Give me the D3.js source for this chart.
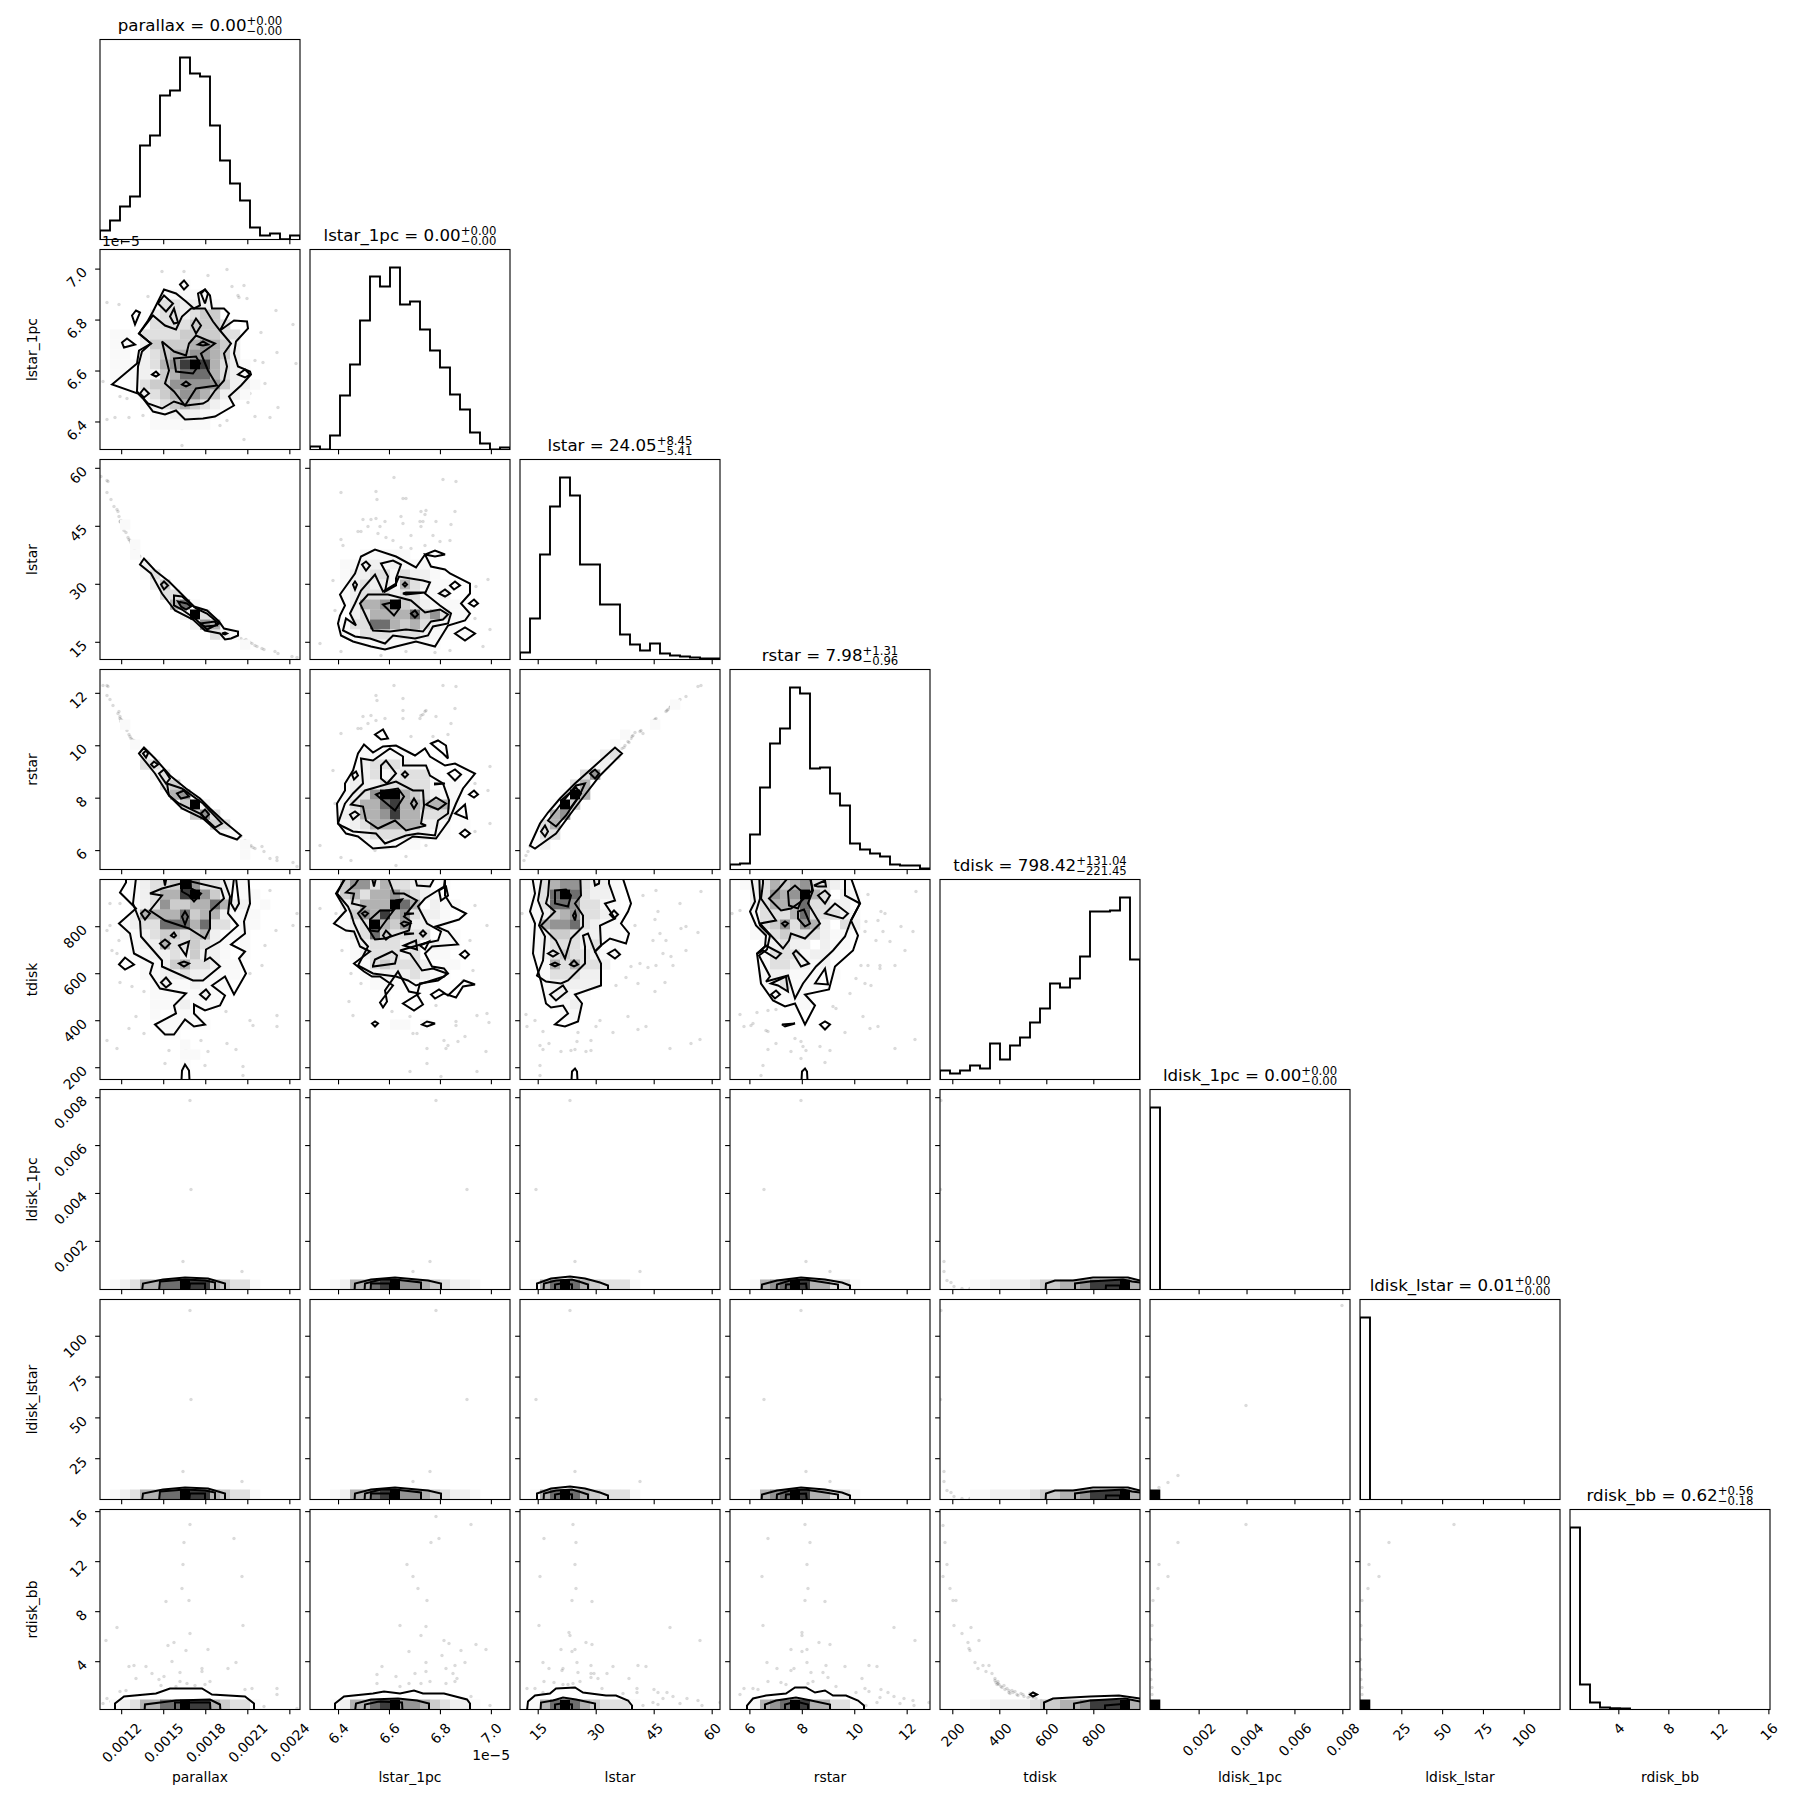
<!DOCTYPE html>
<html><head><meta charset="utf-8">
<script src="https://d3js.org/d3.v7.min.js"></script>
<style>html,body{margin:0;padding:0;background:#fff}text{font-family:"DejaVu Sans";fill:#000}</style>
</head><body><svg id="c" width="1809" height="1809" xmlns="http://www.w3.org/2000/svg"></svg>
<script>
// ---- variables
const names = ["parallax","lstar_1pc","lstar","rstar","tdisk","ldisk_1pc","ldisk_lstar","rdisk_bb"];
const titleMain = ["parallax = 0.00","lstar_1pc = 0.00","lstar = 24.05","rstar = 7.98","tdisk = 798.42","ldisk_1pc = 0.00","ldisk_lstar = 0.01","rdisk_bb = 0.62"];
const titleUp = ["+0.00","+0.00","+8.45","+1.31","+131.04","+0.00","+0.00","+0.56"];
const titleDown = ["−0.00","−0.00","−5.41","−0.96","−221.45","−0.00","−0.00","−0.18"];
const domains = [[0.001049,0.002476],[6.29,7.075],[10.42,62.15],[5.26,12.89],[147.7,998.7],[-0.00003,0.00832],[-0.3,122.2],[0.136,16.13]];
const tickVals = [[0.0012,0.0015,0.0018,0.0021,0.0024],[6.4,6.6,6.8,7.0],[15,30,45,60],[6,8,10,12],[200,400,600,800],[0.002,0.004,0.006,0.008],[25,50,75,100],[4,8,12,16]];
const tickText = [["0.0012","0.0015","0.0018","0.0021","0.0024"],["6.4","6.6","6.8","7.0"],["15","30","45","60"],["6","8","10","12"],["200","400","600","800"],["0.002","0.004","0.006","0.008"],["25","50","75","100"],["4","8","12","16"]];
// ---- 1D histograms (20 bins, relative counts)
const hist_parallax = [9,19,33,43,94,104,144,149,182,166,163,114,79,56,39,12,4,6,0.3,4];
const hist_lstar1pc = [3,0,14,54,85,129,173,163,182,145,148,120,99,82,55,40,17,6,0,2];
const hist_lstar = [7,41,105,153,182,164,95,95,55,55,25,15,9,16,6,4,3,2,1,1];
const hist_rstar = [5,6,35,82,126,141,182,176,101,102,76,64,26,20,16,13,5,4,4,1];
const hist_tdisk = [9,6,9,14,11,36,20,34,42,57,71,96,92,101,123,168,168,169,182,120];
const hist_ldisk1pc = [182,0,0,0,0,0,0,0,0,0,0,0,0,0,0,0,0,0,0,0];
const hist_ldisklstar = [182,0,0,0,0,0,0,0,0,0,0,0,0,0,0,0,0,0,0,0];
const hist_rdiskbb = [182,25,7,2,1.3,1,0,0,0,0,0,0,0,0,0,0,0,0,0,0];
const hists = [hist_parallax,hist_lstar1pc,hist_lstar,hist_rstar,hist_tdisk,hist_ldisk1pc,hist_ldisklstar,hist_rdiskbb];
// ---- density: 20x20 bin grid, [row from top, first column, levels 0-9]
const grayLevels = ["#ffffff","#f9f9f9","#f0f0f0","#e0e0e0","#cccccc","#b2b2b2","#949494","#6e6e6e","#3c3c3c","#000000"];
const cells_r1c0 = [[3,8,"1"],[4,6,"11111"],[5,6,"332221"],[6,5,"2332344"],[7,5,"33334443"],[8,1,"110333344443300"],[9,1,"11024444565420"],[10,1,"1102345566542"],[11,1,"1112356898532100"],[12,1,"1112145777532100"],[13,3,"13446666642210"],[14,3,"1234566542210"],[15,4,"123454321"],[16,5,"1122211"],[17,5,"111111"]];
const cells_r2c0 = [[6,2,"1"],[8,3,"1"],[9,3,"1"],[10,4,"2"],[11,4,"13"],[12,5,"24"],[13,6,"33"],[14,7,"571"],[15,8,"293"],[16,9,"265"],[17,11,"321"],[18,14,"1"]];
const cells_r3c0 = [[5,2,"1"],[7,3,"1"],[8,4,"2"],[9,4,"33"],[10,5,"23"],[11,6,"34"],[12,7,"56"],[13,8,"492"],[14,9,"463"],[15,11,"43"],[16,12,"11"],[17,14,"1"],[18,14,"1"]];
const cells_r2c1 = [[9,5,"11111"],[10,3,"112212111"],[11,3,"1223313221"],[12,3,"12322153211"],[13,3,"12333233112"],[14,4,"25569432111"],[15,4,"235555746311"],[16,3,"133775453211"],[17,3,"1133323321111"],[18,4,"111211111"]];
const cells_r3c1 = [[8,5,"11111"],[9,5,"2333211"],[10,4,"123123331"],[11,3,"122233333111"],[12,3,"123699543211"],[13,3,"135578554551"],[14,3,"225568553331"],[15,3,"12355555221 1"],[16,4,"1233332211"],[17,5,"112111"]];
const cells_r3c2 = [[3,15,"1"],[5,13,"1"],[6,10,"1"],[7,9,"1"],[8,8,"23"],[9,7,"12"],[10,6,"36"],[11,5,"35"],[12,4,"195"],[13,3,"194"],[14,3,"56"],[15,2,"35"],[16,2,"33"],[17,1,"12"]];
const cells_r4c0 = [[0,3,"123349633211"],[1,3,"1235589642 11"],[2,3,"123644557522 1"],[3,3,"2555574552111"],[4,2,"12337775733 11"],[5,2,"1123443452 11"],[6,3,"1225334321 1"],[7,3,"1122324221 1"],[8,4,"1124533211"],[9,4,"1122322111"],[10,5,"12112111"],[11,5,"1111121"],[12,5,"1112111"],[13,5,"1 111"],[14,6,"11111"],[15,6,"11"],[16,8,"1"],[17,8,"11"],[18,8,"1"]];
const cells_r4c1 = [[0,3,"466353322 1"],[1,3,"4535564321"],[2,3,"23555975 211"],[3,3,"14658563221"],[4,3,"12395462211"],[5,3,"123743333 11"],[6,4,"1233323 211"],[7,4,"1233323 11"],[8,5,"1343332 11"],[9,5,"112223211"],[10,6,"111111"],[11,7,"1"],[14,8,"11 1"]];
const cells_r4c2 = [[0,1,"135663221"],[1,1,"137973221"],[2,1,"137763311"],[3,1,"124563321"],[4,1,"156673211"],[5,1,"124432211"],[6,1,"1233323 1"],[7,1,"123433211"],[8,2,"1535332"],[9,2,"133322"],[10,2,"122222"],[11,2,"12211"],[12,3,"112"],[13,4,"11"]];
const cells_r4c3 = [[0,1,"12354563321"],[1,2,"23656953 21"],[2,2,"2355573322"],[3,2,"13335733321"],[4,2,"13463652 32"],[5,2,"1134333211"],[6,3,"12322 211"],[7,3,"13331221"],[8,3,"1332212"],[9,3,"122111 1"],[10,3,"113111"],[11,4,"1111"],[12,6,"11"]];
// bottom-row density of the ldisk_1pc, ldisk_lstar and rdisk_bb rows, per column
const bottom_c0 = "01235577988543310000";
const bottom_c1 = "00125578966543221000";
const bottom_c2 = "01579754333100000000";
const bottom_c3 = "00156798553310000000";
const bottom_c4 = "00011222234455688895";
// ---- contours in bin units (x from left, y from top; 20 bins per axis); each level a closed ring
const cont_r1c0 = [
[1.2,13.5,3.7,11.4,3.9,10.1,5.1,9.4,3.9,8.4,4.8,7.1,5.3,6.2,6.4,4,7.6,4.4,8.6,5.2,9.4,5.9,10,5.6,9.8,4.4,10.5,4,11,4.6,11.2,5.9,12.4,5.9,12.9,6.4,12,8.1,13.4,7.1,14.7,7.2,14.8,7.9,13.6,9.2,13.4,10.4,13.8,11.7,15,12.2,15.1,12.5,14.1,13.6,12.9,14.7,13.4,15.6,11.5,16.7,10.3,16.9,8.5,17,7.6,16.1,6.5,16.5,5.3,16.2,4.3,14.9,3.8,14.4],
[3.7,14.2,3.8,11.7,4.2,10.2,5.1,9.4,3.9,8.4,5.3,6.6,6.5,7.6,7.6,8,8.2,6.7,9.1,5.9,10.5,5.9,11.3,7.2,12,8.1,13.1,9.4,12.4,10.4,12.7,11.7,12.4,13.1,11.5,14.1,10.8,15.1,10.3,15.4,8.6,15.6,7.4,15.2,6.2,15.9,4.8,15.4],
[6.2,9.2,7.4,10.2,8.6,10.6,8.9,9.4,9.6,8.6,11.5,9.4,10.1,10.4,10.8,12.1,11.7,13.6,9.6,13.9,8.5,15.6,7.4,14.2,6.5,13.4,6.9,12.1],
[7.4,10.9,9.6,10.7,10,11.4,9.3,12.4,7.6,12.2],
[8,3.5,8.4,3.1,8.8,3.6,8.4,4],[5.8,5.4,6.4,4.6,7.3,5.4,6.6,6.2],[7,6.7,7.4,5.9,7.8,7.3,7.4,7.4],[3.2,6.6,3.6,6.1,4,6.3,3.5,7.5],[2.2,9.3,2.7,8.9,3.5,9.5,2.4,9.8],[9.2,7.6,9.6,6.9,10.1,7.6,9.6,8.4],[9.8,9.5,10.3,9.2,10.8,9.5,10.3,9.6],[5.2,12.5,5.6,12.2,5.9,12.5,5.6,12.7],[8.2,13.5,8.6,13.2,9,13.5,8.6,13.7],[4,14.4,4.4,13.9,4.9,14.4,4.4,14.8],[13.8,12.5,14.5,12,15,12.5,14.5,12.8],[10.1,4.4,10.5,4,10.8,4.4,10.5,5.4]];
const cont_r2c0 = [
[4,10.5,4.4,9.9,5.5,11.1,6.9,12.2,8.1,13.4,9.4,14.7,10.7,15.1,11.9,16.2,12.4,16.9,13.8,17.2,13.8,17.6,13.1,17.9,12.5,18,12,17.4,10.5,17.1,9.3,16,7.5,15.1,6.2,13.4,5.1,11.4],
[7.4,13.6,8.2,13.7,9.6,14.9,10.7,15.4,11.9,16.4,10.7,17,9.6,16,8.2,15,7.4,14.6],
[7.8,14.2,8.7,14.4,9.1,14.7,8.6,15,8.1,14.7],
[10,16.4,11.5,16.2,11.7,16.6,10.5,16.7],
[6.1,12.5,6.4,12.2,6.8,12.6,6.4,13],[12.2,17.4,12.5,17.3,12.7,17.4,12.5,17.5]];
const cont_r3c0 = [
[3.9,8.4,4.4,7.8,5.5,8.9,7,10.6,8.6,11.9,10,12.9,11,13.9,12.4,15.2,14.1,16.6,13.7,17,12,16.4,10.3,14.9,8.2,13.9,6.9,12.6,5.5,10.4],
[6.7,11.4,8.2,11.9,10.3,13.4,12.2,15.4,11.5,15.8,10,14.4,7.9,13.4,6.9,12.6],
[4.3,8.4,4.6,8.1,4.8,8.4,4.6,8.8],[5.1,9.5,5.4,9.2,5.8,9.5,5.4,9.8],[5.9,10.4,6.4,10,7,10.9,6.6,11.4],[7.7,12.4,8.4,12.1,8.9,12.7,8.1,12.9],[10.1,14.4,10.5,14,10.9,14.5,10.5,14.9]];
const cont_r2c1 = [
[2.8,16.4,3,15.6,3.5,14.6,3,13.5,4.5,11.4,5.1,9.7,6.5,9,8.6,9.7,10.6,10.8,11.5,9.5,12.5,9.1,13.5,9.5,12.5,9.7,11.5,9.5,12.1,10.7,13.5,11,14,11.4,16,12.4,16,13.4,15.1,14.4,16,15.4,15.5,16.1,13.8,16.6,12.5,18.7,10.6,18.2,8.6,18.7,7.5,19,6.1,18.7,4.3,18.2,3.1,17.6],
[4,15.4,4.5,14.4,5.1,13.1,6.5,11.5,7.3,13.2,8.6,12.4,8.9,11.7,11.3,12.1,12,12.3,11.5,13.4,13,14.6,14.1,15.4,13.8,16.4,12.3,16.7,11.8,17.6,10.5,17.9,8.3,17.6,7.5,18.4,6,17.9,4.5,17.7,3.3,17.1,3.6,15.9,4.6,16.6],
[5,14.4,5.8,13.5,7.8,13.5,10.1,14.1,11.5,15.3,13,15,13.8,15.5,13.3,16,12.1,16.2,11.3,17.2,9.6,17,8,17.2,6.3,17.1,5.8,16.1],
[7.3,14.5,9,14.1,9,14.8,8.4,15.6],
[7.1,10.4,8.3,10.1,9.1,10.5,8.6,11.9,8.6,12.6,7.5,13.2,7.8,11.7],[5.2,10.5,5.6,10.2,6,10.6,5.6,11.1],[4.3,12.5,4.5,12.2,4.7,12.5,4.5,13],[9.3,12.5,9.5,12.3,9.7,12.5,9.5,12.7],[9.3,13.4,9.6,13.3,11.5,13.3,9.6,13.5],[14,12.6,14.5,12.2,15,12.6,14.4,13],[12.9,13.4,13.5,13,14,13.4,13.5,13.7],[15.9,14.4,16.4,14,16.8,14.4,16.4,14.7],[14.5,17.4,15.5,16.8,16.5,17.4,15.5,18.1],[10.1,15.4,10.5,15.1,10.8,15.5,10.5,15.8]];
const cont_r3c1 = [
[2.8,15.4,2.7,13.4,3.5,12.1,3.5,11.4,4.3,10.1,4.8,8.4,5.4,7.5,6.3,8.3,7.3,7.7,8.6,7.6,10.5,8.6,11.5,7.9,12,8.7,13.5,9.6,14.5,9.4,16.5,10.4,15.3,11.9,14.6,13.4,13.9,15.1,12.6,16.9,10.3,16.7,8.6,17.7,6.3,17.9,4.8,16.7,3.6,16.4],
[3.5,13.4,4.3,12.4,5.3,11.4,5.1,8.9,6.3,9.1,8,7.9,9.3,8.7,9.3,9.6,11.6,9.6,12,10.6,13.3,11.4,13.9,13.1,13.8,14.4,12.8,15.1,12.5,16.6,10.8,16.4,9.6,16.6,7.5,17.4,6.6,16.4,4.3,16.2,3.3,15.7,2.8,15.4],
[4.1,13.5,5.5,12.1,8.6,11.2,10.3,12.1,11.3,12.1,11.4,13.6,11.1,15.4,11.6,15.6,9.6,16.1,8.5,15.1,6.8,15.9,5.6,15.1,5.3,13.7],
[6.6,12.5,7.6,12.1,8.8,11.9,9.4,12.7,8.5,14.1,7.3,13.1],
[7.1,9.6,7.6,9.1,8.6,10.4,7.7,11.4,7.1,10.9],[6.5,6.5,7.3,6,7.8,6.9,7.1,7],[12.1,7.4,12.8,7.1,13.6,7.6,13.8,8.9,13.3,8.4],[4.2,10.5,4.6,10.2,4.8,10.6,4.4,11],[9.2,10.5,9.5,10.2,9.8,10.5,9.5,10.8],[12.5,11.4,13.5,11.4,12.5,11.5],[13.8,10.4,14.5,10,15.1,10.5,14.5,11.1],[15.9,12.5,16.4,12.1,16.8,12.5,16.4,12.8],[10.1,13.4,10.4,12.9,10.7,13.4,10.4,13.9],[11.6,13.5,12.6,12.8,13.6,13.4,12.8,14],[14.5,14.4,15.5,13.5,15.7,14.9],[15,16.4,15.5,16,16,16.4,15.5,16.8],[4,14.5,4.5,14.2,4.9,14.5,4.3,15]];
const cont_r3c2 = [
[1,17.6,2,15.4,2.8,14.3,4,12.9,5.5,11.4,7.4,9.7,9.5,7.8,10.2,8.4,8,10.6,6.6,12.4,5.3,14.1,3.6,16.4,1.5,17.9],
[2.8,15.1,4.3,13.2,5.6,11.6,6.5,11.4,5.9,12.7,4.6,14.6,3.6,15.7],
[4.1,13.1,5.6,11.8,6.1,12.4,5,13.9],
[2.1,16.2,2.5,15.6,2.8,16.2,2.5,16.7],[7,10.4,7.5,10,7.9,10.4,7.5,10.9]];
const cont_r4c0 = [
[2.6,-1,2.6,.3,2,1.3,3.6,2.9,1.9,4.4,3,5.4,3.4,7.4,5.3,8.4,5,9.4,6,10.9,8.6,11.4,7.4,12.6,7.6,13.4,5.5,14.5,6.5,15.5,7.4,15.5,8.5,14,9.4,14.7,10.5,14.5,9.4,13.4,9.4,12.5,10.5,13.1,12,12.6,12.5,11.6,11.2,10.6,12.5,9.7,13.4,11.5,14.6,9.4,13.9,7.9,14.5,7.2,13.1,6.5,14.5,5.4,14.4,4.2,15,2.4,14.8,-1],
[13.5,-1,13.1,2.4,13.5,3.1,13.9,2.4],
[3.7,-1,3.3,2.4,4,4.2,4.1,5.7,6.2,8.1,6.2,8.7,9.3,10.1,10.3,10.1,12,8.7,11,7.8,10.5,8.1,10.6,7,12,6.2,13.8,4.6,12.8,3.4,13,1.7,12,-1],
[9.1,.2,12.1,.9,12.4,1.9,11,3.2,11,4.9,10.5,5.9,8.9,4.9,6.5,4.1,5,3.1,6.2,1.6,5,1.4,6.2,.9,8.1,.4],
[6.2,-1,6.5,.6,6.8,-1],
[8.1,-1,8.2,1.2,8.9,1.6,9.4,2.2,10.1,1.4,9.1,.9,9,-1],
[4.1,3.4,4.5,3,5,3.4,4.5,4],[8.2,3.7,8.5,3.2,8.8,3.7,8.5,4.5],[7.1,5.6,7.4,5.3,7.6,5.6,7.4,5.8],[6,6.4,6.5,6,7,6.4,6.5,6.9],[7.9,6.6,8.9,6.2,8.6,7.6],[7.9,8.4,8.4,8.2,8.9,8.4,8.4,8.7],[1.9,8.5,2.5,7.8,3.4,8.5,2.5,9],[6.1,10.3,6.6,9.8,7.1,10.4,6.6,10.8],[10,11.5,10.6,11,11,11.5,10.6,12],[8.1,21,8.2,19.1,8.5,18.5,8.9,19.1,9,21]];
const cont_r4c1 = [
[4.1,-1,2.6,1.4,3.6,3.1,2.4,4.4,3.6,5.1,4.4,5.2,5,6.7,6,7.2,4.4,8.4,5.4,9.2,6.2,9.7,7,9.7,8.3,10.6,7.3,11.9,7,12.3,7.3,12.8,7.7,12.2,7.5,11.1,8.8,9.2,9.9,11.2,10.9,11.4,9.3,12.4,10.4,13.1,11.3,12.5,10.7,11.5,11,10.4,12.8,10.1,13.8,9.4,13.4,8.9,12.2,8.7,11.5,7.4,12.2,6.7,14.8,6.5,13.8,5.2,12.6,4.7,14.9,4,15.6,3.4,14.2,2.7,13.5,1.6,13.5,-1],
[3.9,-1,2.7,1.4,3.8,2.7,4.1,3.4,4.4,4.4,5.1,5.9,5.8,6.7,4.8,8.6,6.3,9.4,8.6,9.7,9.8,10.1,10.6,10.6,13.4,9.7,13.7,9.4,12.3,8.9,11.2,9.1,10,7.4,9,7.1,11.4,6.4,12.8,6.1,13.1,5.2,11.7,4.4,10.8,2.7,11.5,1.9,13.4,.7,13.6,-1],
[3.6,1.3,4.4,1.4,4.2,2.4,5.5,2.7,4.8,3.4,6,5.2,6.5,6,7.5,5.9,9.9,5.1,10.1,4.2,9.4,3.7,10.7,2.1,9.4,1.4,8.4,1.4,7.5,-1,5.5,-1,4.5,.5],
[6,4,7,3.1,8.2,3.1,8.6,2.1,9.2,2,7.9,3.7,6.8,5.2,6,5.1],
[6,-1,6.4,.7,6.8,-1],[10.3,-1,10.7,.6,12,.7,12.9,-1],[12.9,1.1,13.6,.7,13.8,1.6,13.1,2.1],[9.5,3.4,10.4,3.4,9.5,3.5],[9.5,5.4,10.4,5.4,9.5,5.5],[7.3,5.6,7.6,5.1,8.1,5.6,7.6,6],[11,5.4,11.3,5.1,11.6,5.4,11.3,5.7],[9.4,6.6,10.6,6.1,10.7,7],[11,6.6,11.9,6.2,11.5,7],[6.3,8.6,6.5,8,8.2,7.2,8.7,7.6,8.5,8.4,6.3,8.7],[15,7.5,15.5,7.1,15.9,7.5,15.5,7.9],[12.1,11.5,12.9,11,13.8,11.6,15.4,10.1,16.5,10.5,15.3,10.7,14.6,11.8,13.4,11.4,12.5,11.9],[6.2,14.4,6.5,14.2,6.8,14.4,6.5,14.7],[11.2,14.5,11.7,14.2,12.5,14.4,11.7,14.7],[5.2,3.4,5.5,3.2,5.8,3.4,5.5,3.7],[9.1,4.4,9.4,4.2,10,4.4,9.4,4.7]];
const cont_r4c2 = [
[1.1,-1,1.5,1.4,1,3.2,1.5,4.4,1.3,7.4,2.1,10.2,2.6,12.4,3.1,12.8,4.3,12.6,4.8,13.4,3.5,14.5,4.5,14.7,5.8,14.2,6.2,12.4,5.5,11.5,8.1,10.6,8.1,8.4,7.5,7.2,8.1,6.6,9,5.9,10.6,6.4,10.9,5.4,10.1,4.4,10.8,3.2,11.1,2.4,10,-1],
[2.3,-1,1.8,2.1,2.3,3.4,1.9,4.6,2.5,5.7,2.3,8.1,1.7,9.6,2.6,10.2,4.1,10.4,4.8,10.1,6.5,8.4,6.5,6.7,6.3,5.6,6.8,5.4,7.5,7.2,8.1,6.6,8,4.6,9.5,3.9,8.5,2.4,9.5,2.1,8.9,.4,8.9,-1],
[3,-1,2.8,1.6,2.6,2.4,3.5,3.2,2.1,4.6,3.6,6.1,4.5,7.9,5.1,5.9,6.3,4.7,6.3,3.6,5.5,2.4,6.1,1.6,6,-1],
[3.5,1.1,4.6,1,5.1,1.6,4.8,2.7,3.5,2.4],
[5.3,3.6,5.5,3.2,5.6,3.6,5.5,4.1],[7.2,-1,7.5,.6,7.9,.4,8,-1],[9,3.5,9.4,3.1,9.8,3.5,9.4,3.9],[2.8,7.4,3.3,7.1,3.8,7.4,3.3,7.7],[3.1,8.5,3.5,8.3,3.9,8.5,3.5,8.7],[5,8.5,5.4,8.1,5.8,8.5,5.4,8.7],[3,11.5,4.3,10.6,4.7,11.2,3.6,12.1],[8.8,7.4,9.5,7,10,7.5,9.5,7.9],[5.1,21,5.2,19.2,5.5,18.9,5.7,19.2,5.8,21]];
const cont_r4c3 = [
[2,-1,2.5,2.2,2,3.2,2.6,4.6,3.6,5.6,3.5,6.7,2.7,7.4,3.1,10.4,4.3,12.1,5.5,12.7,6.5,12.4,7.5,14.5,8.5,12.6,7.5,11.5,9.9,11,10.5,8.7,12.3,7.1,12.8,5.6,12.1,4.1,13,2.4,11.8,-1],
[3.3,-1,3.3,.4,3.1,1.9,3.8,2.9,4.6,4.1,3,4.4,5.3,6.9,5.9,6.1,6.1,5.4,7.5,5.9,9,4.4,7.8,2.4,8.3,1.1,7.8,-1],
[2.9,-1,3,1.9,2.6,3.2,3,4.6,4,5.6,3.7,7,2.9,7.6,4,9.7,3.6,10.2,5.8,9.6,6.5,11.9,7.3,10.4,8.6,8.7,10.3,7.1,11.5,5.7,12.1,4.1,13,2.4,11.5,1.6,11.5,-1],
[2.8,7.4,3.3,7.1,4.6,7.9,5.1,7.4,3.6,6.6],
[3.9,1.9,4.9,.9,6.5,-1,8,-1,8.2,1.1,7.1,2.2,6.1,2.9,5.1,3.1],
[5.8,1.2,6.5,.6,7.4,1.4,6.8,2.9,5.9,2.6],
[6.8,3.2,7.4,3,8,4.4,7.5,4.7,6.8,3.9],
[5.2,4.4,5.5,4.2,5.8,4.4,5.5,4.7],[8.4,.6,9.5,.1,9.6,.7,8.8,.7],[8.8,1.6,9.5,1.1,10,1.6,9.5,2.4],[9.5,3.4,10.5,2.4,11.8,3.4,11.3,3.9],[6.3,7.4,6.6,7.1,7.9,8.4,7.1,8.7],[8.5,10.4,9.5,8.9,9.8,10.5],[4.1,10.4,5.6,9.7,5.8,11.2,4.8,10.6],[4.1,11.5,4.6,11.1,5,11.5,4.5,11.9],[5.2,14.5,6.5,14.4,5.5,14.7],[9,14.5,9.5,14.2,10,14.5,9.5,15],[7.1,21,7.2,19.2,7.5,18.9,7.7,19.2,7.8,21]];
const cont_r5c0 = [[4.1,21,4.3,19.4,6.3,19,8.5,18.8,10.8,18.9,12.5,19.4,12.5,21],[5.8,21,6,19.2,8.5,19,10.5,19.1,11.5,19.3,11.5,21],[8.8,21,9,19.4,10.5,19.4,10.5,21]];
const cont_r5c1 = [[4.4,21,4.5,19.4,6.1,19,8.5,18.8,11.8,19.1,13.1,19.4,13.1,21],[5.4,21,5.5,19.4,7.1,19,8.5,19,11.1,19.3,11.1,21],[6,21,6.1,19.4,8,19.4,8,21]];
const cont_r5c2 = [[1.7,21,1.7,19.4,3.1,18.9,5,18.7,6.5,18.9,8,19.3,8.8,19.6,8.8,21],[2.3,21,2.4,19.4,3.6,19.1,5.2,19,6.2,19.3,6.8,19.5,6.8,21],[3.5,21,3.5,19.5,4.1,19.4,5.2,19.5,5.2,21]];
const cont_r5c3 = [[3.1,21,3.2,19.5,4.7,19.1,7.1,18.8,9.5,19,11.2,19.3,12,19.6,12,21],[4.6,21,4.7,19.5,6,19.1,7.5,19,9.5,19.3,10.8,19.5,10.8,21],[5.5,21,5.6,19.5,7.6,19.4,7.8,21]];
const cont_r5c4 = [[10.5,21,10.6,19.4,11.5,19.1,13.3,19.1,15.3,18.8,18.8,18.8,20,19.1,21,19.1,21,21],[13.5,21,13.5,19.4,15,19.2,18.3,19,19.2,19.2,20,19.3,21,19.3,21,21],[16.5,21,16.6,19.6,18,19.6,18,21]];
const cont_r7c0 = [[1.5,21,1.5,19.4,2.4,18.7,5.6,18.4,7,17.9,10.2,17.9,11.2,18.5,14.5,18.7,15.4,19.4,15.4,21],[4.4,21,4.5,19.5,7.6,19.1,11,19,12,19.5,12.1,21],[7.5,21,7.5,19.3,11,19.3,11.1,21]];
const cont_r7c1 = [[2.5,21,2.5,19.4,3.4,18.7,6.3,18.4,7.4,18.2,9,18.4,10.4,18.1,11.3,18.4,13.4,18.4,15.7,19,16,19.4,16,21],[4.4,21,4.6,19.4,6.1,19,8.8,18.9,10.7,19.1,11.9,19.4,11.9,21],[5.4,21,5.5,19.5,6.9,19.2,9.2,19.3,9.3,21]];
const cont_r7c2 = [[.6,21,.8,19.2,1.5,18.6,3,18.4,3.6,17.9,5.5,17.8,6.3,18.3,8.6,18.6,9.6,18.6,10.8,19.1,11.2,19.6,11.2,21],[2,21,2.1,19.3,3.3,19.1,4.3,18.8,5.6,19,7.5,19.4,7.5,21],[3.5,21,3.5,19.5,4.1,19.4,5.2,19.5,5.2,21]];
const cont_r7c3 = [[1.7,21,1.7,19.6,2.3,18.9,3.6,18.6,5.6,18.4,6.5,17.8,7.6,17.8,8.5,18.3,9.5,18.1,10.3,18.6,11.6,18.6,12.8,19.1,13.4,19.6,13.4,21],[3.5,21,3.5,19.5,4.6,19.1,6.6,18.8,8.1,19.1,10,19.5,10,21],[5.5,21,5.5,19.5,6.6,19.2,7.8,19.5,7.8,21]];
const cont_r7c4 = [[10.4,21,10.4,19.3,11.3,18.9,15,18.7,17.9,18.6,20,18.9,21,18.9,21,21],[13.4,21,13.4,19.4,15,19.1,18.5,18.9,20,19.2,21,19.2,21,21],[16.5,21,16.5,19.6,18.8,19.4,18.8,21],[9,18.5,9.3,18.3,9.7,18.5,9.3,18.7]];
// ---- outlying samples in bin units, flat x,y pairs
const pts_r1c0 = [1.9,5.5,.7,5.3,6.2,2.2,8.4,2.2,10.8,2.6,12.7,2,13.2,3.7,14.4,3.6,13.8,4.6,13.9,4.8,14.7,4.9,17.6,6.1,16.1,8.3,19.3,7.5,17.7,10.3,19.6,11.4,16.3,11.3,15.5,11.1,16.5,13.4,15,14.4,14.8,15.3,17.8,15.8,15.5,16.7,17,16.8,14.4,19,12.7,17.1,12,17.6,8.2,17.9,6.5,16.9,5.3,17.6,4.3,16.6,2.9,16.8,1.5,16.8,.7,17,2,14.7,2.7,14.9,.3,13.2,1.2,10.7,1.9,8.4,1.3,9.7,4.8,4.7,8.2,19.6];
const pts_r2c0 = [.1,1.7,.7,2.1,.7,3.3,1.1,4,1.4,4.7,1.8,5.2,1.9,5.7,2,6.2,2.2,6.5,2.3,6.6,2.4,7.1,2.8,7.8,3.1,8.3,3.3,8.7,3.6,9.2,3.9,9.6,13.9,17.9,14.4,18.1,15,18.3,15.5,18.6,16.2,18.9,16.4,19,17.5,19.2,17.8,19.4,19.2,19.7,19.7,19.8,2.1,6.3,2.2,6.4,14.5,18.2,.8,2.2,1.7,5,2.1,6.1,2.3,6.3,2.4,6.8,2.6,7.3,2.9,8,3,8.1,3.4,8.9,3.5,9.1,3.7,9.4,4,9.7,14.1,17.9,14.6,18,14.8,18.2,15.2,18.4,15.7,18.7];
const pts_r3c0 = [.3,1.6,.7,1.6,.7,2.6,1,3,1.3,3.6,1.9,4.2,2,4.7,2.2,5.1,2.3,5.4,2.7,6.1,3.1,6.9,3.4,7.1,3.8,7.6,2.1,5,2.2,5.2,14.1,16.7,14.5,17.1,14.8,17.5,15,17.7,15.5,17.9,16.2,17.7,16.4,18.2,17,18.9,17.7,18.8,17.7,19.1,19.3,19.3,19.7,19.7,.8,1.7,1.8,4.4,2,4.9,2.1,5.2,2.4,5.6,2.9,6.5,3,6.7,3.2,7,3.6,7.4,14.6,17.2,14.7,17.4,15.1,17.6,15.3,17.8];
const pts_r2c1 = [1,18.4,3.1,3.3,6.6,3.2,6.7,4,8.4,1.8,9.3,3.9,9.6,3.9,13.3,2,14.6,2.2,11.1,5.2,11.6,5.1,11.5,5.5,14.5,5.2,5.3,6,6.1,6,6.6,5.9,7.5,6.2,7,6.7,5.8,6.7,5.1,7.2,6.8,7.4,7.6,7.8,3.1,8,3.3,8.6,4.8,7.2,9.1,5.7,9.3,6.4,11,6.2,11.3,6.2,11.1,6.7,12.6,6.2,14.1,6.5,12.3,7.6,10.1,7.6,8.3,8.1,9.1,8.8,10.1,8.9,11.5,8.6,13,8.2,14,8.1,16.6,12.7,17.8,12,18,17,16.5,15.9,17.3,18.7,14,19.1,3.1,19.2,7.1,19.6,9.6,19.2,12.5,19.3,2.3,12.1,2.5,15.1];
const pts_r3c1 = [1,17.6,3.1,18.8,6.6,2.6,6.7,3.1,8.4,1.6,9.3,2.9,13.3,1.6,14.6,1.7,11.1,4.6,11.5,4.2,11.6,4.1,11.3,4.5,14.5,3.9,5.3,4.7,6.1,4.6,6.6,5.1,7.5,4.9,5.8,5.4,5.1,5.9,3.1,6.4,4.8,5.9,6.8,6.7,9.3,4.1,9.3,4.9,11,4.9,12.6,4.7,14.1,5.4,10.1,6.7,12.3,6.7,13.8,6.5,18,9.7,16.5,11.4,17.8,12.1,18,15.4,16.5,16.2,2.3,10.1,2.5,13.4,11.6,17.6,6.5,18.1,4.1,19.1,9.6,18.7,8.6,19.6];
const pts_r3c2 = [10.2,7.9,10.5,7.6,10.8,7.2,11.1,6.9,11.5,6.3,12,6.2,12.3,6.4,13.3,5.2,13.6,4.9,13.6,5.1,14.6,4.2,14.8,4,15.1,3.7,16,3,16.6,2.7,17.8,1.7,18.1,1.6,1,17.7,.8,18.2,.6,18.6,.4,19.1,10.4,7.8,10.9,7.3,11.2,6.7,11.3,6.6,12.1,6.1,13.4,5.1,13.5,5,14.7,4.1,15,3.8];
const pts_r4c0 = [17,1.1,15.3,3.2,19.7,3.4,19.3,4.6,17.6,5.1,1,2.4,2,2.4,1,4.6,.7,5.1,1.9,6.1,1.2,7.1,1.7,7.4,16.5,6.6,16.2,8.6,15,9.4,2,10.3,3.2,10.7,4.4,11.2,3.6,13.7,4.4,15.4,2.9,14.9,.7,16.1,1.7,16.9,8.6,17,6.9,17.1,10.8,17.2,10.1,16.1,13.6,17,12.7,16.4,17.7,13.6,17.7,14.7,15,14.1,15.3,14.6,12.6,13.2,6.5,18.4,10.5,18.6,14.3,18.7,14.3,19.6,11.2,10.4];
const pts_r4c1 = [1,2.9,2.6,3.4,3.2,7.1,4.1,9.4,5.1,10.4,3.9,12.2,4.3,13.6,8.2,13.2,8.6,14.2,8.9,14.7,10.3,15.4,10.7,15.4,11.7,16.9,13.4,16.1,13.8,16.6,14.8,16.2,13.6,16.9,14.6,14.2,15.5,15.7,16.7,13.6,17.7,13.4,17.9,14.3,17.6,17.2,16.7,19.2,11.7,18.4,10,19.2,13.1,19.7,12.6,12.6,16.3,9.1,15.3,10.1,16.5,2.6,17.7,4.6,16,6.1,10,13.7,14.6,14.6];
const pts_r4c2 = [.2,3.4,.6,13.5,.7,14.7,1.5,14.1,2.3,15.2,2,16.6,2.3,17,2.9,16.4,4.1,17.2,5.1,17.1,5.5,17,5.7,16.2,5.8,15.3,6.6,17.2,7.1,17.1,7.1,16.1,8,14.1,7.6,14.7,9.3,15.3,10.8,13.7,11.8,15,12.6,14.7,11.1,8.7,12,8.4,12.8,8.8,13.6,8.6,14.3,7.4,15.1,7.7,15.3,8.6,16.6,7.1,13.3,6.1,14.6,6.1,13.5,4,13.8,3.2,16,2.4,12.3,1.6,13.6,1.1,18.1,1.2,11.5,4.6,14,5.4,16.1,4.9,16.6,4.7,17.8,5.3,9.6,10.6,10.6,9.8,11.8,10.4,13.5,11.2,14.5,10.3,15,16.9,18,16,17.1,16.4,2,18.6,2,19.6];
const pts_r4c3 = [.2,3.4,1,3.1,1,13.5,1.4,14.7,2.1,14.6,2.3,14.4,2.7,13.3,3.8,13.1,3.6,15.1,4.6,13,3.8,15.2,3.8,17,4.6,16.4,6.5,15.9,7.1,16.2,7.3,16.7,7.6,17.1,9,16.7,10,17.1,9.5,18.3,7.1,17.9,6.1,17.2,3.3,18.6,3.1,19.6,10.3,12.7,10.6,12.9,11.5,15.3,13.3,13.7,14,14.9,14.8,14.7,12,11.4,12.6,9.9,13.5,10.4,14.1,10.6,15,8.6,15,8.9,16.5,8.6,17.5,7.1,14.6,6.1,16,6.2,13.8,8.6,13.1,8.6,14.8,4.1,13.6,4.2,13.5,5.2,15.3,5.2,17.1,4.7,18.3,5.2,15.1,3.2,15.5,3.4,13.8,1.5,16.5,16.9,18.5,16,18.6,1.2];
const pts_r5c0 = [9,1.1,9.1,10,8.3,17.2,14.2,18.2,14.3,19.8];
const pts_r5c1 = [12.6,1.1,15.7,10,12,17.2,10.3,18.2];
const pts_r5c2 = [5,1.1,1.6,10,5.5,17.2,12,18.2];
const pts_r5c3 = [7.1,1.1,3.4,10,7.6,17.2,10,18.2];
const pts_r5c4 = [.1,1.1,.05,10,.4,17.2,.4,18.2,.7,19.1,1.1,19.3,1.4,19.7,2.2,19.9,3,19.9];
const pts_r6c5 = [19.2,.6,9.6,10.6,2.8,17.6,.9,18.8,1.8,18.3,.8,19.2,.3,19.5];
const pts_r7c0 = [9,1.5,13.4,2.9,8.4,3.3,8.3,5.5,14.2,6.7,8.2,7.9,8.9,9.1,6.6,9.2,14.3,11.6,1.7,11.8,9,12.4,.6,13.1,7.4,13.3,6.8,13.6,8.6,14.1,10.8,14,2.9,15.7,3.4,15.6,4.6,15.7,13.6,15.3,12.8,15.9,7.2,15.2,10.2,15.9,10.2,16.2,8,16.3,5.2,16.4,6.4,16.7,5.9,17,3.6,16.9,11,17.2,8,17.2,8.7,17.4,9.5,17.6,10.5,17.5,7.6,17.7,6.1,17.6,2.6,18.1,2,18.2,15.2,17.9,14.5,18,17.7,17.9,17.7,18.5,16.4,19.7,19.7,19.9,.7,18.9,.3,19.4,1.1,19.2];
const pts_r7c1 = [16.1,1.5,12.6,.7,12.9,2.9,12.1,3.3,9.7,5.5,10.3,6.7,10.8,7.9,11.7,9.1,9,11.6,11.6,11.7,11.1,12.6,9.9,14.2,13.4,13.1,13.9,13.4,16.6,13.5,17.6,14,15.1,14.1,13.2,14.6,11.6,15.3,7.2,15.7,14.5,15.6,15.5,15.3,13.6,15.9,11.6,16.2,10.5,16.4,6.7,16.5,8.6,16.7,14.3,16.4,14.7,16.9,6.7,17.4,9,17.7,9.9,17.4,11.1,17.4,12,17.2,13.6,17.4,14.5,17.2,16.1,18.7,18,19.6];
const pts_r7c2 = [5.3,1.5,2.4,2.9,5.6,3.3,5.5,5.5,2,6.7,5.6,7.9,5.2,9.1,7.2,9.2,1.9,11.6,4.9,12.3,5,12.6,15,11.8,18,13.1,6.6,13.3,7.2,13.5,4.1,14,5.2,14.2,5.5,14,2.3,15.3,5.7,15.3,2.9,15.9,4.3,15.9,4.2,16.1,5.8,16.3,7.1,15.6,9.3,15.7,11.8,15.6,12.6,15.7,8.7,16.4,7.1,16.4,7.4,16.4,7.1,16.8,7.8,16.9,10.9,16.9,2.4,17.2,3.4,17.3,4.3,17.5,4.8,17.5,5.3,17.4,6,17.2,.7,17.9,1.5,17.9,2.3,18.3,8.2,17.9,11.7,17.9,13.4,18,13.8,18.3,10.3,18.4,11.7,18.3,14.7,18.3,15.3,18.7,16.7,18.9,17.8,19.1,14.3,18.9,13.3,19.3,13.8,19.5,12.3,19.6,16,19.4,18.2,19.6,20,19.3];
const pts_r7c3 = [7.5,1.5,3.8,2.9,8,3.3,7.7,5.5,3.2,6.7,7.8,7.9,7.5,9.1,9.5,9.2,3.3,11.6,7.2,12.3,7.2,12.6,16.4,11.8,18.5,13.1,8.9,13.3,10,13.5,6.1,14,7.2,14.2,7.7,14,3.7,15.3,7.7,15.3,4.7,15.9,6.4,15.9,6.1,16.1,8.1,16.3,9.6,15.6,11.5,15.7,13.9,15.6,14.7,15.7,9.3,16.3,9.8,16.8,13.2,16.9,3.8,17.2,5.1,17.3,5.6,17.5,7.8,17.4,8.3,17.2,1.4,17.9,2.3,17.9,2.8,18,1,18.5,10.6,17.7,13.5,17.9,15.1,18,15.8,18.3,12.6,18.3,13.9,18.2,16.4,18.7,17.4,18.9,18.3,19.1,15,18.8,14.7,19.3,13.6,19.6,17,19.4,18.4,19.6,19.9,19.3];
const pts_r7c4 = [.3,1.6,.5,3.3,.7,5.5,.3,6.7,1,7.9,1.3,9.1,1.6,9.1,1.4,11.6,3.1,11.8,2.2,12.4,2.8,13.3,2.9,13.9,3.9,13.1,3,14.1,3.5,15.3,3.8,15.9,4.3,15.6,4.9,15.6,5.2,16.4,5.5,17.1,5.8,17.4,6.1,17.7,6.7,17.9,7,18.4,7.5,18.2,8.1,18.4,8.4,18.7,9,18.7,9.6,18.9,10.1,19.1,5.8,17.2,5.7,17.5,4.6,16.2,7.2,18.1,7.8,18.6,9,18.4,6.4,17.6,5.9,17.5,6.2,17.8,6.9,18.1,7.3,18.3,7.7,18.5,8.3,18.5,8.8,18.8,9.3,18.8,5.5,16.9,5.6,17.3,6.5,18,6.9,18.3];
const pts_r7c5 = [9.6,1.5,2.8,3.3,.9,5.5,1.8,6.7,.8,7.9,.3,9.1,.2,11.6,.1,13,.05,15,.1,16,.1,17,.2,17.8,.2,18.5];
const pts_r7c6 = [9.4,1.5,2.9,3.3,.9,5.5,1.9,6.7,.8,7.9,.2,9.1,.1,11.6,.1,13,.05,15,.1,16,.1,17,.2,17.8,.2,18.5];
// ---- panel table: key row,col → cells, contours, points
const lowCells = s => [[19,0,s]];
const panels = {
 "1,0":[cells_r1c0,cont_r1c0,pts_r1c0],"2,0":[cells_r2c0,cont_r2c0,pts_r2c0],"3,0":[cells_r3c0,cont_r3c0,pts_r3c0],
 "2,1":[cells_r2c1,cont_r2c1,pts_r2c1],"3,1":[cells_r3c1,cont_r3c1,pts_r3c1],"3,2":[cells_r3c2,cont_r3c2,pts_r3c2],
 "4,0":[cells_r4c0,cont_r4c0,pts_r4c0],"4,1":[cells_r4c1,cont_r4c1,pts_r4c1],"4,2":[cells_r4c2,cont_r4c2,pts_r4c2],"4,3":[cells_r4c3,cont_r4c3,pts_r4c3],
 "5,0":[lowCells(bottom_c0),cont_r5c0,pts_r5c0],"5,1":[lowCells(bottom_c1),cont_r5c1,pts_r5c1],"5,2":[lowCells(bottom_c2),cont_r5c2,pts_r5c2],"5,3":[lowCells(bottom_c3),cont_r5c3,pts_r5c3],"5,4":[lowCells(bottom_c4),cont_r5c4,pts_r5c4],
 "6,0":[lowCells(bottom_c0),cont_r5c0,pts_r5c0],"6,1":[lowCells(bottom_c1),cont_r5c1,pts_r5c1],"6,2":[lowCells(bottom_c2),cont_r5c2,pts_r5c2],"6,3":[lowCells(bottom_c3),cont_r5c3,pts_r5c3],"6,4":[lowCells(bottom_c4),cont_r5c4,pts_r5c4],
 "6,5":[[[19,0,"9"]],[],pts_r6c5],
 "7,0":[lowCells(bottom_c0),cont_r7c0,pts_r7c0],"7,1":[lowCells(bottom_c1),cont_r7c1,pts_r7c1],"7,2":[lowCells(bottom_c2),cont_r7c2,pts_r7c2],"7,3":[lowCells(bottom_c3),cont_r7c3,pts_r7c3],"7,4":[lowCells(bottom_c4),cont_r7c4,pts_r7c4],
 "7,5":[[[19,0,"9"]],[],pts_r7c5],"7,6":[[[19,0,"9"]],[],pts_r7c6]
};
// ---- drawing
const N = names.length, SIZE = 200, STEP = 210, X0 = 100, Y0 = 39.5, TICK = 4.86, TXT = 13.9;
const svg = d3.select("#c");
const defs = svg.append("defs");
const colX = i => X0 + STEP*i, rowY = j => Y0 + STEP*j;
const pairs = a => d3.range(0, a.length, 2).map(k => [a[k], a[k+1]]);
const rotBox = w => (w + 7) * Math.SQRT1_2;

function styleLabels(g, place){
  g.selectAll(".tick text").attr("x",null).attr("y",null).attr("dy",null)
   .attr("text-anchor","middle").attr("dominant-baseline","central").style("font-size",TXT+"px")
   .each(function(){ const w = rotBox(this.getComputedTextLength()); d3.select(this).attr("transform", place(w)+" rotate(-45)"); });
}
for (let j=0;j<N;j++) for (let i=0;i<=j;i++){
  const px = colX(i), py = rowY(j);
  const g = svg.append("g");
  const bx = d3.scaleLinear().domain([0,20]).range([px,px+SIZE]);
  const by = d3.scaleLinear().domain([0,20]).range([py,py+SIZE]);
  const cid = `clip${j}_${i}`;
  defs.append("clipPath").attr("id",cid).append("rect").attr("x",px).attr("y",py).attr("width",SIZE).attr("height",SIZE);
  const inner = g.append("g").attr("clip-path",`url(#${cid})`);
  const valX = d3.scaleLinear().domain(domains[i]).range([px,px+SIZE]);
  if (i===j){
    const hy = d3.scaleLinear().domain([0,200]).range([py+SIZE,py]);
    const last = d3.max(hists[i].map((v,k)=> v>0 ? k : 0));
    const series = [[0,0]].concat(hists[i].slice(0,last+1).map((v,k)=>[k,v]),[[last+1,hists[i][last]],[last+1,0]]);
    inner.append("path").attr("fill","none").attr("stroke","#000").attr("stroke-width",1.9)
      .attr("d", d3.line().curve(d3.curveStepAfter).x(d=>bx(d[0])).y(d=>hy(d[1]))(series));
  } else {
    const p = panels[j+","+i];
    p[2] && inner.append("g").selectAll("circle").data(pairs(p[2])).join("circle")
      .attr("cx",d=>bx(d[0])).attr("cy",d=>by(d[1])).attr("r",1.7).attr("fill","#000").attr("fill-opacity",0.14);
    const cells = [];
    p[0].forEach(([r,c0,s])=>{ for(let k=0;k<s.length;k++){ const c=s[k]; if(c!==" "&&c!=="0") cells.push({r,c:c0+k,v:+c}); }});
    inner.append("g").selectAll("rect").data(cells).join("rect")
      .attr("x",d=>bx(d.c)).attr("y",d=>by(d.r)).attr("width",bx(1)-bx(0)+.3).attr("height",by(1)-by(0)+.3)
      .attr("fill",d=>grayLevels[d.v]);
    const ln = d3.line().x(d=>bx(d[0])).y(d=>by(d[1])).curve(d3.curveLinearClosed);
    inner.append("g").selectAll("path").data(p[1]).join("path")
      .attr("d",d=>ln(pairs(d))).attr("fill","none").attr("stroke","#000").attr("stroke-width",2).attr("stroke-linejoin","miter").attr("stroke-miterlimit",3);
  }
  // frame
  g.append("rect").attr("x",px).attr("y",py).attr("width",SIZE).attr("height",SIZE).attr("fill","none").attr("stroke","#000").attr("stroke-width",1.1);
  // x axis
  const ax = d3.axisBottom(valX).tickValues(tickVals[i]).tickSize(TICK).tickSizeOuter(0).tickFormat((d,k)=> j===N-1 ? tickText[i][k] : "");
  const gx = g.append("g").attr("transform",`translate(0,${py+SIZE})`).call(ax);
  gx.select(".domain").remove();
  gx.selectAll("line").attr("stroke","#000").attr("stroke-width",1.1);
  if (j===N-1) styleLabels(gx, w=>`translate(0,${13.5+w/2})`);
  // y axis
  if (i<j){
    const valY = d3.scaleLinear().domain(domains[j]).range([py+SIZE,py]);
    const ay = d3.axisLeft(valY).tickValues(tickVals[j]).tickSize(TICK).tickSizeOuter(0).tickFormat((d,k)=> i===0 ? tickText[j][k] : "");
    const gy = g.append("g").attr("transform",`translate(${px},0)`).call(ay);
    gy.select(".domain").remove();
    gy.selectAll("line").attr("stroke","#000").attr("stroke-width",1.1);
    if (i===0) styleLabels(gy, w=>`translate(${-13-w/2},${-2+w/2})`);
  }
  // diagonal title
  if (i===j){
    const t = g.append("g");
    const m = t.append("text").attr("y",py-9).style("font-size","16.67px").text(titleMain[i]);
    const up = t.append("text").attr("y",py-15).style("font-size","11.67px").text(titleUp[i]);
    const dn = t.append("text").attr("y",py-5).style("font-size","11.67px").text(titleDown[i]);
    const mw = m.node().getComputedTextLength(), sw = Math.max(up.node().getComputedTextLength(),dn.node().getComputedTextLength());
    const left = px + SIZE/2 - (mw+sw)/2;
    m.attr("x",left); up.attr("x",left+mw); dn.attr("x",left+mw);
  }
}
// axis titles
names.forEach((n,i)=>{
  svg.append("text").attr("x",colX(i)+SIZE/2).attr("y",1777).attr("text-anchor","middle").attr("dominant-baseline","central").style("font-size",TXT+"px").text(n);
  if (i>0) svg.append("text").attr("transform",`translate(32,${rowY(i)+SIZE/2}) rotate(-90)`).attr("text-anchor","middle").attr("dominant-baseline","central").style("font-size",TXT+"px").text(n);
});
// offset texts
svg.append("text").attr("x",colX(0)+2).attr("y",rowY(1)-8.5).attr("dominant-baseline","central").style("font-size",TXT+"px").text("1e−5");
svg.append("text").attr("x",colX(1)+SIZE).attr("y",1755).attr("text-anchor","end").attr("dominant-baseline","central").style("font-size",TXT+"px").text("1e−5");
</script></body></html>
